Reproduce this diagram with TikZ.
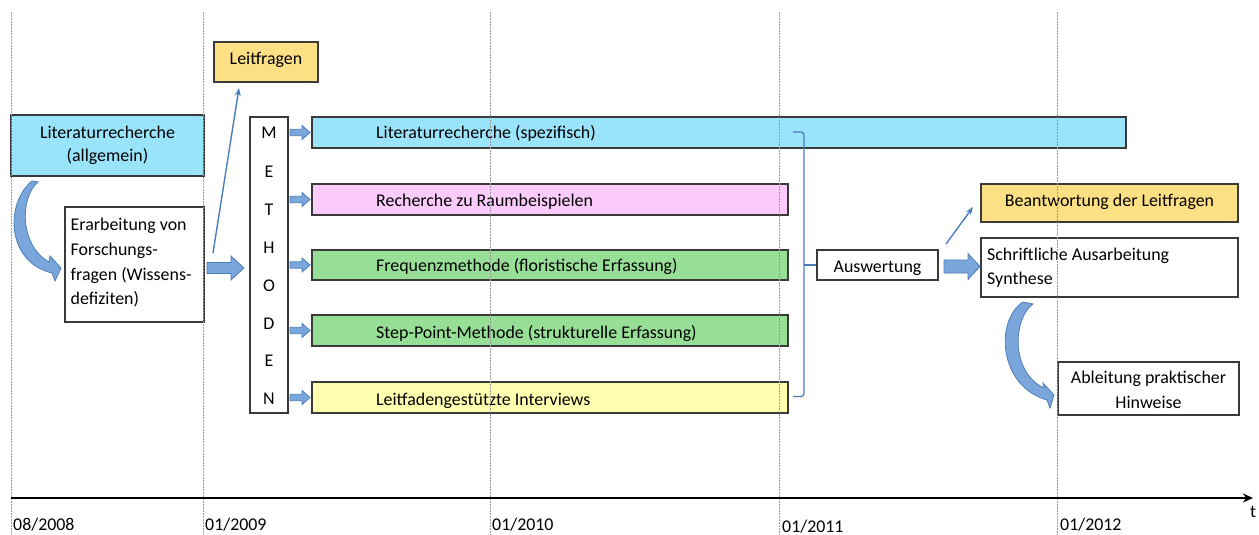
\documentclass[tikz,border=0pt]{standalone}
\usepackage{fontspec}
\setmainfont{Carlito}
\usetikzlibrary{arrows.meta}
\definecolor{litblue}{HTML}{9AE4FB}
\definecolor{pinkbar}{HTML}{FBCBFB}
\definecolor{greenbar}{HTML}{97DE97}
\definecolor{lyellow}{HTML}{FFFFAF}
\definecolor{goldbox}{HTML}{FDE084}
\definecolor{arrfill}{HTML}{7BA6DB}
\definecolor{arrline}{HTML}{4A7DBA}
\definecolor{boxline}{HTML}{3A3A3A}
\newcommand{\blockarr}[6]{%
  \filldraw[fill=arrfill, draw=arrline, line width=0.8pt, line join=miter]
   (#1,{#3-#4}) -- ({#2-#6},{#3-#4}) -- ({#2-#6},{#3-#5}) -- (#2,#3)
   -- ({#2-#6},{#3+#5}) -- ({#2-#6},{#3+#4}) -- (#1,{#3+#4}) -- cycle;}
\begin{document}
\begin{tikzpicture}[x=1pt,y=-1pt,
  font=\fontsize{17.9}{25}\selectfont,
  box/.style={draw=boxline, line width=1.3pt, rectangle, inner sep=0pt},
  txt/.style={inner sep=0pt, anchor=base},
  ltxt/.style={inner sep=0pt, anchor=base west},
  grid/.style={draw=gray!80, line width=0.6pt, dash pattern=on 2pt off 1pt},
  thinarr/.style={draw=arrline, line width=1.4pt, -{Stealth[length=8pt,width=6pt]}}]
\useasboundingbox (0,0) rectangle (1259,535);

% boxes
\node[box, fill=litblue, minimum width=193pt, minimum height=61pt] (lita) at (107.5,145.5) {};
\node[box, fill=white, minimum width=139pt, minimum height=115pt] (erarb) at (134.5,264.5) {};
\node[box, fill=goldbox, minimum width=104pt, minimum height=40pt] (leitf) at (266,62) {};
\node[box, fill=white, minimum width=38pt, minimum height=296pt] (meth) at (269,265) {};
\node[box, fill=litblue, minimum width=814pt, minimum height=31pt] (bspez) at (719,132.5) {};
\node[box, fill=pinkbar, minimum width=476pt, minimum height=31pt] (braum) at (550,199.5) {};
\node[box, fill=greenbar, minimum width=476pt, minimum height=30pt] (bfreq) at (550,265) {};
\node[box, fill=greenbar, minimum width=476pt, minimum height=31pt] (bstep) at (550,330.5) {};
\node[box, fill=lyellow, minimum width=476pt, minimum height=31pt] (binter) at (550,397.5) {};
\node[box, fill=white, minimum width=121pt, minimum height=30pt] (ausw) at (877.5,265) {};
\node[box, fill=goldbox, minimum width=257pt, minimum height=38pt] (beant) at (1109.5,203) {};
\node[box, fill=white, minimum width=257pt, minimum height=59pt] (schrift) at (1109.5,267.5) {};
\node[box, fill=white, minimum width=181pt, minimum height=53pt] (ableit) at (1148.5,388.5) {};

% texts
\node[txt] (t1) at (107.5,138) {Literaturrecherche};
\node[txt] (t2) at (107.5,161.5) {(allgemein)};
\node[ltxt] (t3) at (70.5,230) {Erarbeitung von};
\node[ltxt] (t4) at (70.5,255) {Forschungs-};
\node[ltxt] (t5) at (70.5,280) {fragen (Wissens-};
\node[ltxt] (t6) at (70.5,304) {defiziten)};
\node[txt] (t7) at (266,65) {Leitfragen};
\foreach \L/\yy [count=\i] in {M/139,E/177.5,T/215.5,H/253,O/291,D/329,E/366.5,N/404}
  {\node[txt] (m\i) at (269,\yy) {\L};}
\node[ltxt] (t8) at (376,139) {Literaturrecherche (spezifisch)};
\node[ltxt] (t9) at (376,206) {Recherche zu Raumbeispielen};
\node[ltxt] (t10) at (376,271.5) {Frequenzmethode (floristische Erfassung)};
\node[ltxt] (t11) at (376,338) {Step-Point-Methode (strukturelle Erfassung)};
\node[ltxt] (t12) at (376,405) {Leitfadengestützte Interviews};
\node[txt] (t13) at (877.5,272) {Auswertung};
\node[txt] (t14) at (1109.5,206.5) {Beantwortung der Leitfragen};
\node[ltxt] (t15) at (987,260) {Schriftliche Ausarbeitung};
\node[ltxt] (t16) at (987,284) {Synthese};
\node[txt] (t17) at (1148.5,383.5) {Ableitung praktischer};
\node[txt] (t18) at (1148.5,408.5) {Hinweise};

% block arrows
\foreach \yy in {132.5,199.5,265,330.5,397.5}
  {\blockarr{290}{310}{\yy}{3.2}{7}{8}}
\blockarr{207}{244}{268}{5.5}{12}{13}
\blockarr{944}{980}{266.5}{6.5}{13}{12}

% curved arrows
\filldraw[fill=arrfill, draw=arrline, line width=0.8pt]
  (38,182) .. controls (20,197) and (19,245) .. (49,262) -- (50,256) -- (61,268)
  -- (55,281) -- (52,273) .. controls (6,262) and (5,203) .. (32,181) -- cycle;
\filldraw[fill=arrfill, draw=arrline, line width=0.8pt]
  (1033,304) .. controls (1013,318) and (1010,372) .. (1044,388) -- (1043,383) -- (1054,395)
  -- (1050,408) -- (1047,400) .. controls (998,386) and (995,320) .. (1023,302) -- cycle;

% thin arrows
\coordinate (a1s) at (213,253);
\coordinate (a1e) at (239,88);
\draw[thinarr] (a1s) -- (a1e);
\coordinate (a2s) at (946,244);
\coordinate (a2e) at (973,207);
\draw[thinarr] (a2s) -- (a2e);

% bracket
\draw[arrline, line width=1.3pt, rounded corners=3pt]
  (793,132) -- (804,132) -- (804,396.5) -- (793,396.5);
\draw[arrline, line width=1.3pt] (804,265) -- (ausw.west);

% timeline grid
\foreach \xx in {11,203,490,779,1057}
  {\draw[grid] (\xx,12) -- (\xx,535);}

% axis
\coordinate (ax0) at (11,498);
\coordinate (ax1) at (1253,498);
\draw[line width=2.6pt, -{Stealth[length=10pt,width=9pt]}] (ax0) -- (ax1);
\node[ltxt] (d1) at (13,530.5) {08/2008};
\node[ltxt] (d2) at (205,530.5) {01/2009};
\node[ltxt] (d3) at (492,530.5) {01/2010};
\node[ltxt] (d4) at (782,532) {01/2011};
\node[ltxt] (d5) at (1060,530.5) {01/2012};
\node[txt] (tt) at (1253,517) {t};
\end{tikzpicture}
\end{document}
